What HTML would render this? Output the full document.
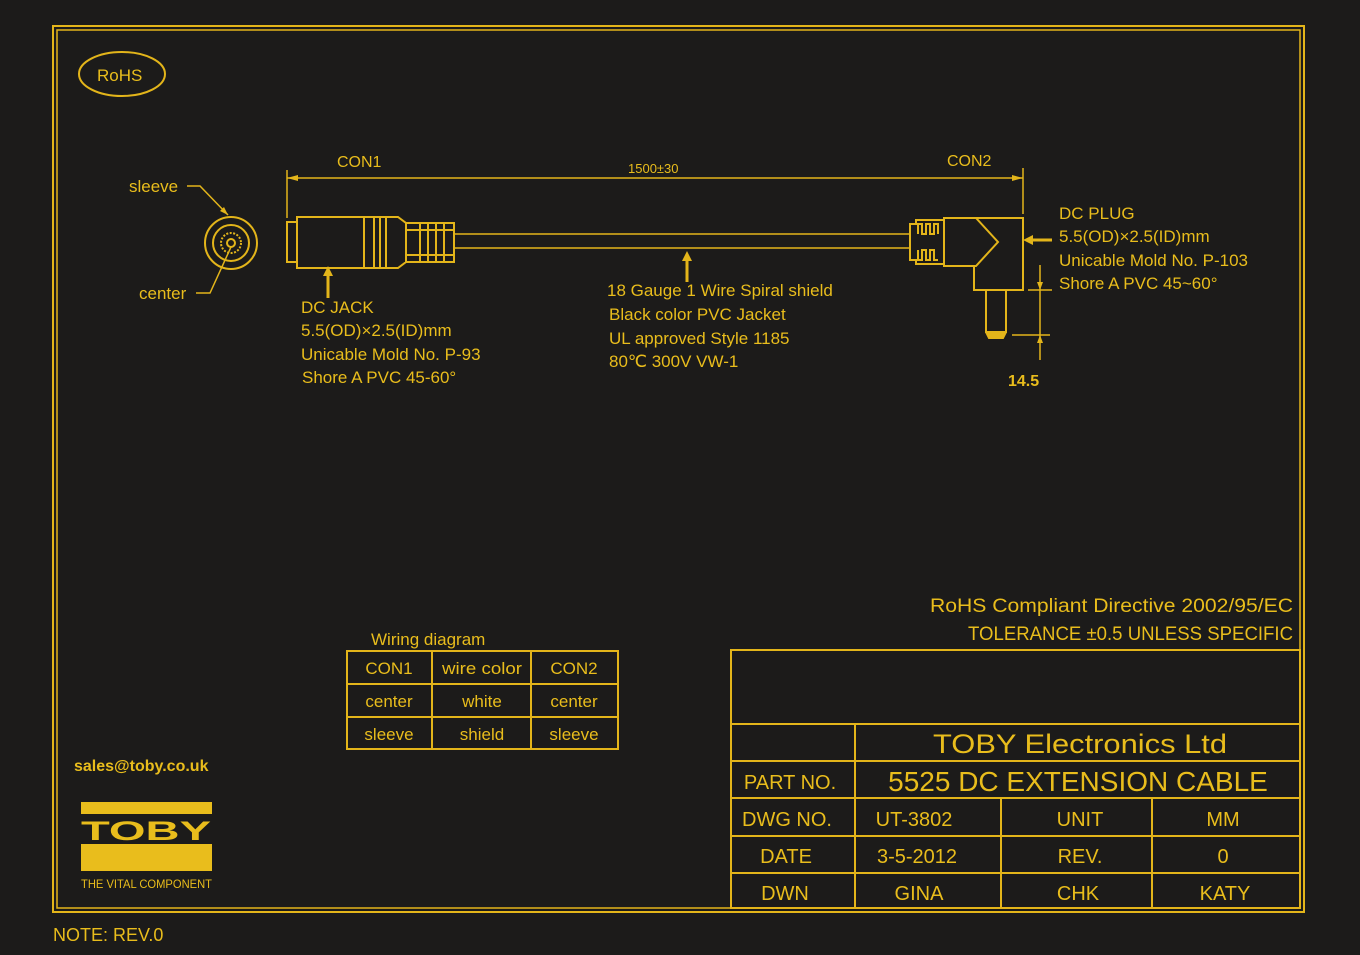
<!DOCTYPE html>
<html><head><meta charset="utf-8"><style>
html,body{margin:0;padding:0;background:#1c1b1a;}
svg{display:block}
text{font-family:"Liberation Sans",sans-serif;fill:#e9bd1c}
</style></head><body>
<svg width="1360" height="955" viewBox="0 0 1360 955" xmlns="http://www.w3.org/2000/svg">
<rect width="1360" height="955" fill="#1c1b1a"/>
<g stroke="#e3b51a" fill="none" stroke-width="2">
<rect x="53" y="26" width="1251" height="886"/>
<rect x="57" y="30" width="1243" height="878" stroke-width="1.5"/>
<ellipse cx="122" cy="74" rx="43" ry="22"/>
<circle cx="231" cy="243" r="26"/>
<circle cx="231" cy="243" r="18"/>
<circle cx="231" cy="243" r="10" stroke-dasharray="2 1.5"/>
<circle cx="231" cy="243" r="4"/>
<polyline points="187,186 200,186 228,215" stroke-width="1.5"/>
<polyline points="196,293 210,293 231,247" stroke-width="1.5"/>
<line x1="287" y1="170" x2="287" y2="218" stroke-width="1.5"/>
<line x1="1023" y1="168" x2="1023" y2="214" stroke-width="1.5"/>
<line x1="287" y1="178" x2="1023" y2="178" stroke-width="1.5"/>
<rect x="287" y="222" width="10" height="40"/>
<rect x="297" y="217" width="67" height="51"/>
<path d="M364 217h10v51h-10M374 217h6v51h-6M380 217h6v51h-6M386 217h12l8 6v39l-8 6h-12z"/>
<path d="M406 223h48v39h-48M420 223v39M428 223v39M436 223v39M444 223v39M406 230h48M406 255h48"/>
<line x1="454" y1="234" x2="910" y2="234" stroke-width="1.5"/>
<line x1="454" y1="248" x2="910" y2="248" stroke-width="1.5"/>
<path d="M910 224h6v-4h28v44h-28v-4h-6z" />
<path d="M918 234v-10h4v10h4v-10h4v10h4v-10h4v10M918 250v10h4v-10h4v10h4v-10h4v10h4"/>
<path d="M944 218h32l22 24-22 24h-32z"/>
<path d="M976 218h47v72h-49v-24"/>
<path d="M986 290v42h20v-42"/>
<path d="M986 332l3 6h14l3-6" fill="#e3b51a"/>
<line x1="1028" y1="290" x2="1052" y2="290" stroke-width="1.5"/>
<line x1="1012" y1="335" x2="1050" y2="335" stroke-width="1.5"/>
<line x1="1040" y1="265" x2="1040" y2="360" stroke-width="1.5"/>
<line x1="328" y1="272" x2="328" y2="298" stroke-width="3"/>
<line x1="687" y1="257" x2="687" y2="282" stroke-width="3"/>
<line x1="1030" y1="240" x2="1052" y2="240" stroke-width="3"/>
<rect x="347" y="651" width="271" height="98"/>
<line x1="347" y1="684" x2="618" y2="684"/>
<line x1="347" y1="717" x2="618" y2="717"/>
<line x1="432" y1="651" x2="432" y2="749"/>
<line x1="531" y1="651" x2="531" y2="749"/>
<rect x="731" y="650" width="569" height="258"/>
<line x1="731" y1="724" x2="1300" y2="724"/>
<line x1="731" y1="761" x2="1300" y2="761"/>
<line x1="731" y1="798" x2="1300" y2="798"/>
<line x1="731" y1="836" x2="1300" y2="836"/>
<line x1="731" y1="873" x2="1300" y2="873"/>
<line x1="855" y1="724" x2="855" y2="908"/>
<line x1="1001" y1="798" x2="1001" y2="908"/>
<line x1="1152" y1="798" x2="1152" y2="908"/>
</g>
<g fill="#e3b51a">
<polygon points="287,178 298,175 298,181"/>
<polygon points="1023,178 1012,175 1012,181"/>
<polygon points="328,266 323,276 333,276"/>
<polygon points="687,251 682,261 692,261"/>
<polygon points="1023,240 1033,235 1033,245"/>
<polygon points="1040,290 1037,282 1043,282"/>
<polygon points="1040,335 1037,343 1043,343"/>
<polygon points="228,215 220,211 224,207"/>
</g>
<g font-size="17">
<text x="97" y="81">RoHS</text>
<text x="129" y="192">sleeve</text>
<text x="139" y="299">center</text>
<text x="337" y="167" font-size="16">CON1</text>
<text x="628" y="173" font-size="13">1500±30</text>
<text x="947" y="166" font-size="16">CON2</text>
<text x="301" y="313">DC JACK</text>
<text x="301" y="336">5.5(OD)×2.5(ID)mm</text>
<text x="301" y="360">Unicable Mold No. P-93</text>
<text x="302" y="383">Shore A PVC 45-60°</text>
<text x="607" y="296">18 Gauge 1 Wire Spiral shield</text>
<text x="609" y="320">Black color PVC Jacket</text>
<text x="609" y="344">UL approved Style 1185</text>
<text x="609" y="367">80℃ 300V VW-1</text>
<text x="1059" y="219">DC PLUG</text>
<text x="1059" y="242">5.5(OD)×2.5(ID)mm</text>
<text x="1059" y="266">Unicable Mold No. P-103</text>
<text x="1059" y="289">Shore A  PVC 45~60°</text>
<text x="1008" y="386" font-weight="bold" font-size="16">14.5</text>
<text x="371" y="645">Wiring diagram</text>
<text x="389" y="674" text-anchor="middle">CON1</text>
<text x="482" y="674" text-anchor="middle" textLength="80" lengthAdjust="spacingAndGlyphs">wire color</text>
<text x="574" y="674" text-anchor="middle">CON2</text>
<text x="389" y="707" text-anchor="middle">center</text>
<text x="482" y="707" text-anchor="middle">white</text>
<text x="574" y="707" text-anchor="middle">center</text>
<text x="389" y="740" text-anchor="middle">sleeve</text>
<text x="482" y="740" text-anchor="middle">shield</text>
<text x="574" y="740" text-anchor="middle">sleeve</text>
<text x="930" y="612" font-size="19" textLength="363" lengthAdjust="spacingAndGlyphs">RoHS Compliant Directive 2002/95/EC</text>
<text x="968" y="640" font-size="19" textLength="325" lengthAdjust="spacingAndGlyphs">TOLERANCE ±0.5 UNLESS SPECIFIC</text>
<text x="933" y="753" font-size="27" textLength="294" lengthAdjust="spacingAndGlyphs">TOBY Electronics Ltd</text>
<text x="1078" y="791" text-anchor="middle" font-size="28">5525 DC EXTENSION CABLE</text>
<text x="790" y="789" text-anchor="middle" font-size="20">PART NO.</text>
<text x="787" y="826" text-anchor="middle" font-size="20">DWG NO.</text>
<text x="786" y="863" text-anchor="middle" font-size="20">DATE</text>
<text x="785" y="900" text-anchor="middle" font-size="20">DWN</text>
<text x="914" y="826" text-anchor="middle" font-size="20">UT-3802</text>
<text x="917" y="863" text-anchor="middle" font-size="20">3-5-2012</text>
<text x="919" y="900" text-anchor="middle" font-size="20">GINA</text>
<text x="1080" y="826" text-anchor="middle" font-size="20">UNIT</text>
<text x="1080" y="863" text-anchor="middle" font-size="20">REV.</text>
<text x="1078" y="900" text-anchor="middle" font-size="20">CHK</text>
<text x="1223" y="826" text-anchor="middle" font-size="20">MM</text>
<text x="1223" y="863" text-anchor="middle" font-size="20">0</text>
<text x="1225" y="900" text-anchor="middle" font-size="20">KATY</text>
<text x="74" y="771" font-weight="bold" font-size="16" fill="#f0c419">sales@toby.co.uk</text>
<text x="53" y="941" font-size="18">NOTE: REV.0</text>
</g>
<rect x="81" y="802" width="131" height="12" fill="#e9bd1c"/>
<rect x="81" y="844" width="131" height="27" fill="#e9bd1c"/>
<text x="146" y="840" text-anchor="middle" font-size="27" font-weight="bold" textLength="130" lengthAdjust="spacingAndGlyphs" fill="#e9bd1c">TOBY</text>
<text x="81" y="888" font-size="12" textLength="131" lengthAdjust="spacingAndGlyphs" fill="#e9bd1c">THE VITAL COMPONENT</text>
</svg>
</body></html>
